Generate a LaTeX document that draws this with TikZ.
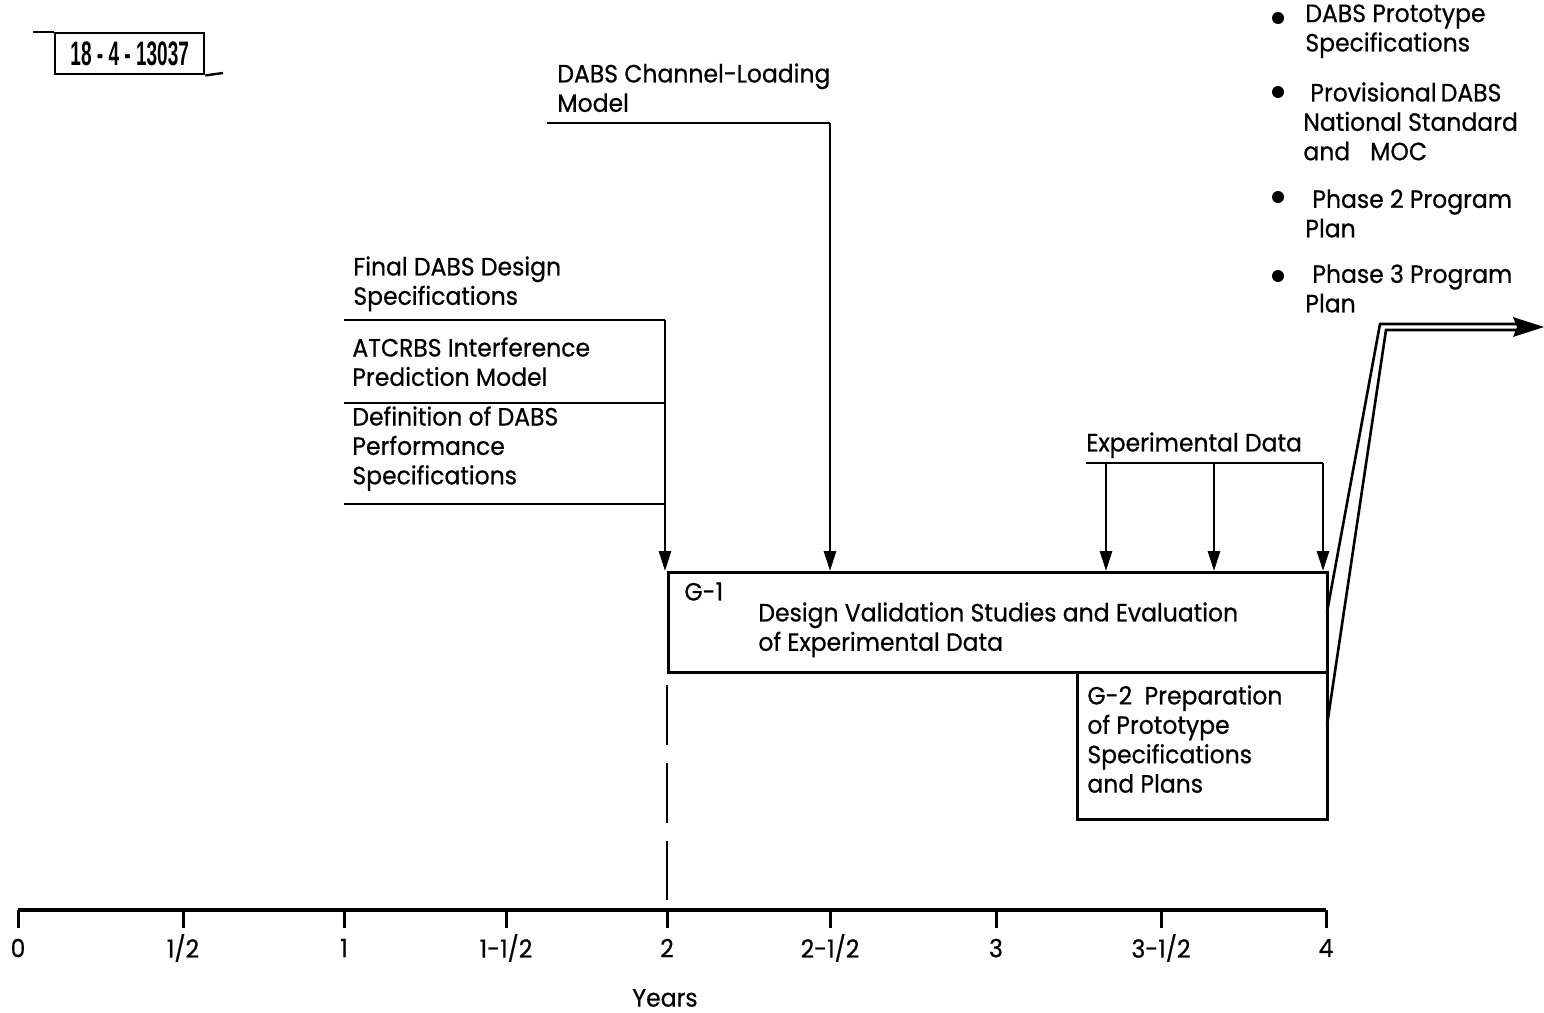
\documentclass[tikz,border=0pt]{standalone}
\usepackage{fontspec}
\usepackage{graphicx}
\setmainfont{Poppins}[FakeStretch=0.94,FakeBold=0.6]
\newfontfamily\reffont{Liberation Sans}
\usetikzlibrary{arrows.meta}
\begin{document}
\begin{tikzpicture}[x=0.5pt,y=-0.5pt,
  ln/.style={line width=1.4pt},
  arr/.style={line width=1.4pt,-{Triangle[length=10pt,width=6pt]}},
  lbl/.style={anchor=north west,inner sep=0pt,align=left,font=\fontsize{12.5}{14.7}\selectfont},
  ticklbl/.style={anchor=center,inner sep=0pt,font=\fontsize{12.5}{14.5}\selectfont},
  boxst/.style={draw,line width=1.5pt,anchor=north west,inner sep=0pt}]
\useasboundingbox (0,0) rectangle (1544,1013);
% reference number box
\node[boxst,line width=1.2pt,minimum width=74.5pt,minimum height=20.5pt] (ref) at (54,32) {};
\node[inner sep=0pt,font=\reffont\bfseries\fontsize{17}{17}\selectfont] (reftxt) at (ref.center) {\scalebox{0.56}[1]{18 - 4 - 13037}};
\coordinate (refL) at (33,32);
\coordinate (refR) at (223,73);
\draw[line width=1.2pt] (refL) -- (ref.north west);
\draw[line width=1.2pt] (ref.south east) -- (refR);
% activity boxes
\node[boxst,minimum width=329.5pt,minimum height=50pt] (g1) at (667,571) {};
\node[boxst,minimum width=125pt,minimum height=73.5pt] (g2) at (1076,671) {};
\node[lbl] (g1id) at (684,582) {G-1};
\node[lbl] (g1txt) at (758,602) {Design Validation Studies and Evaluation\\of Experimental Data};
\node[lbl] (g2txt) at (1087,685) {G-2\enspace Preparation\\of Prototype\\Specifications\\and Plans};
% channel loading model
\node[lbl] (chan) at (557,63) {DABS Channel-Loading\\Model};
\coordinate (chanL) at (547,123);
\coordinate (chanR) at (830,123);
\draw[ln] (chanL) -- (chanR);
\draw[arr] (chanR) -- (g1.north -| chanR);
% left inputs
\node[lbl] (final) at (353,256) {Final DABS Design\\Specifications};
\node[lbl] (atc) at (352,337) {ATCRBS Interference\\Prediction Model};
\node[lbl] (def) at (352,406) {Definition of DABS\\Performance\\Specifications};
\coordinate (finL) at (344,320);
\coordinate (finR) at (665,320);
\coordinate (atcL) at (344,403);
\coordinate (atcR) at (665,403);
\coordinate (defL) at (344,504);
\coordinate (defR) at (665,504);
\draw[ln] (finL) -- (finR);
\draw[ln] (atcL) -- (atcR);
\draw[ln] (defL) -- (defR);
\draw[arr] (finR) -- (g1.north -| finR);
% experimental data
\node[lbl] (exp) at (1086,432) {Experimental Data};
\coordinate (expL) at (1086,463);
\coordinate (expR) at (1323,463);
\draw[ln] (expL) -- (expR);
\foreach \xx/\nm in {1106/ea,1214/eb,1323/ec}{
  \coordinate (\nm) at (\xx,463);
  \draw[arr] (\nm) -- (g1.north -| \nm);
}
% outputs
\foreach \yy/\nm in {18/ba,92/bb,197/bc,276/bd}{
  \fill (1278,\yy) circle (3pt) coordinate (\nm);
}
\node[lbl] (outa) at (1305,4) {DABS Prototype\\Specifications};
\node[lbl] (outb) at (1303,82) {\hspace{3.5pt}Provisional\,DABS\\National Standard\\and\hspace{10pt}MOC};
\node[lbl] (outc) at (1305,189) {\hspace{3.5pt}Phase 2 Program\\Plan};
\node[lbl] (outd) at (1305,264) {\hspace{3.5pt}Phase 3 Program\\Plan};
% double output arrow
\coordinate (da1) at (1327,612);
\coordinate (da2) at (1380,324);
\coordinate (da3) at (1518,324);
\coordinate (db1) at (1327,725);
\coordinate (db2) at (1386,330);
\coordinate (db3) at (1518,330);
\coordinate (tip) at (1544,327);
\draw[line width=1.3pt] (da1) -- (da2) -- (da3);
\draw[line width=1.3pt] (db1) -- (db2) -- (db3);
\fill (tip) -- (1513,317) -- (1517,327) -- (1513,337) -- cycle;
% dashed guide at year 2
\coordinate (dashT) at (667,685);
\coordinate (dashB) at (667,900);
\draw[ln,dash pattern=on 30pt off 9pt] (dashT) -- (dashB);
% time axis
\coordinate (ax0) at (18,910);
\coordinate (ax4) at (1326,910);
\draw[line width=2pt] (ax0) -- (ax4);
\foreach \xx/\tl/\nm in {18/0/t0,183/1\slash 2/t1,344/1/t2,506/1-1\slash 2/t3,667/2/t4,830/2-1\slash 2/t5,996/3/t6,1161/3-1\slash 2/t7,1326/4/t8}{
  \draw[line width=1.5pt] (\xx,910) -- (\xx,928);
  \node[ticklbl] (\nm) at (\xx,948) {\tl};
}
\node[ticklbl] (years) at (665,998) {Years};
\end{tikzpicture}
\end{document}
